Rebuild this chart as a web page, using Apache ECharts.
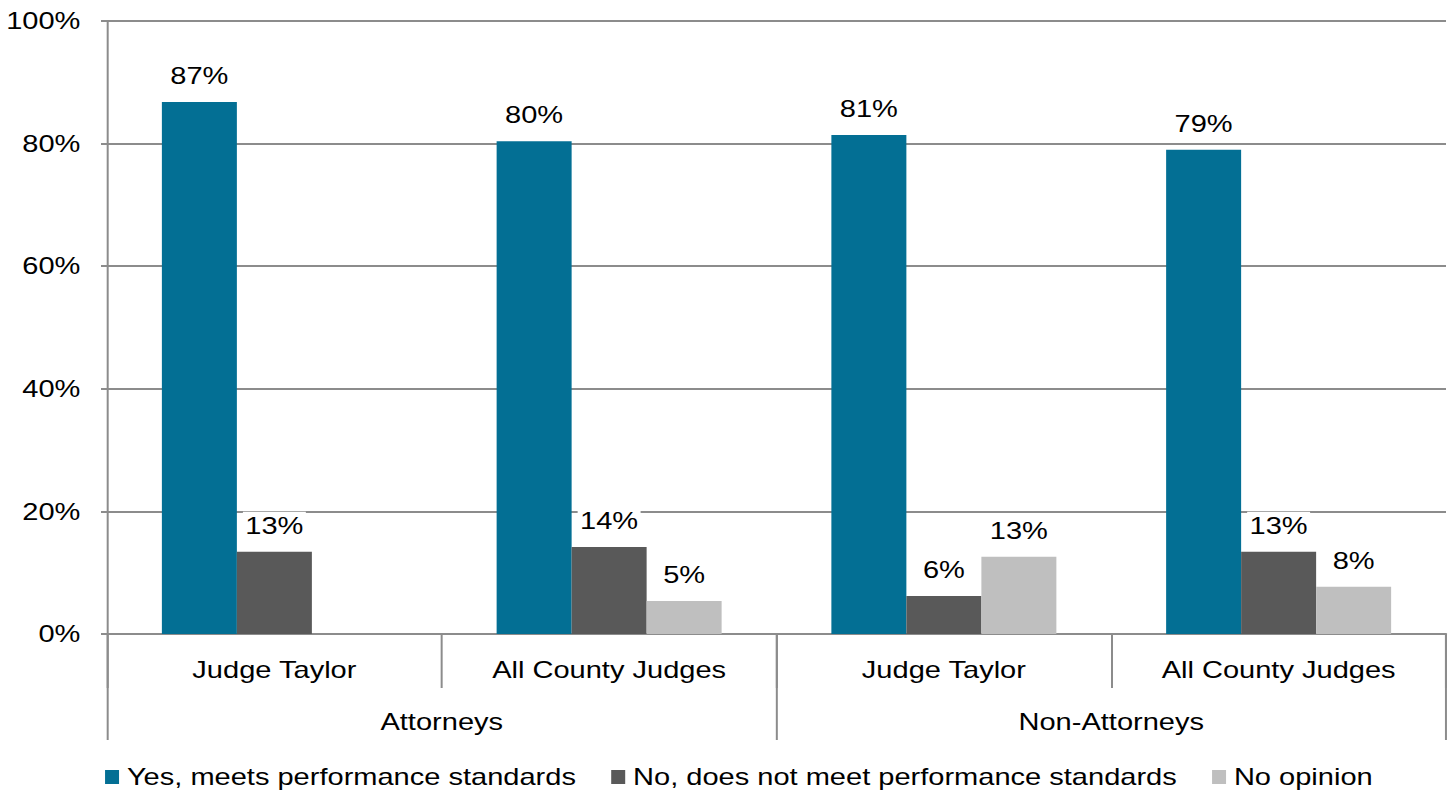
<!DOCTYPE html>
<html>
<head>
<meta charset="utf-8">
<script src="https://cdn.jsdelivr.net/npm/echarts@6/dist/echarts.min.js"></script>
<style>
html,body{margin:0;padding:0;background:#fff;overflow:hidden;width:1453px;height:794px;}
#c{height:794px;transform-origin:0 0;}
</style>
</head>
<body>
<div id="c"></div>
<script>
var categories = ['Judge Taylor', 'All County Judges', 'Judge Taylor', 'All County Judges'];
var groups = ['Attorneys', 'Non-Attorneys'];
var seriesNames = ['Yes, meets performance standards', 'No, does not meet performance standards', 'No opinion'];
var yesValues = [86.8, 80.4, 81.4, 79.0];
var noValues = [13.4, 14.2, 6.2, 13.4];
var noOpinionValues = [null, 5.4, 12.6, 7.7];
var yTicks = [0, 20, 40, 60, 80, 100];

// the reference text is Arial widened horizontally; reproduce by stretching the drawing
var S = 1.21;
var W = 1453 / S;
var el = document.getElementById('c');
el.style.width = W + 'px';
el.style.transform = 'scaleX(' + S + ')';

var colors = ['#036f94', '#595959', '#bfbfbf'];
var font = 'Liberation Sans, Arial, sans-serif';
var fs = 24;
var axisColor = '#8c8c8c';
var vw = 2 / S; // vertical stroke width after stretch ~2px

var chart = echarts.init(el, null, { renderer: 'svg', width: W, height: 794 });
function mkSeries(name, data, color) {
  return {
    name: name, type: 'bar', data: data, barWidth: 75 / S, barGap: '0%',
    itemStyle: { color: color },
    label: {
      show: true, position: 'top', distance: 12,
      fontFamily: font, fontSize: fs, color: '#000',
      backgroundColor: '#fff', padding: [2, 2, 2, 2],
      formatter: function (p) { return Math.round(p.value) + '%'; }
    }
  };
}
chart.setOption({
  animation: false,
  textStyle: { fontFamily: font },
  grid: { left: 107 / S, right: 7 / S, top: 21, bottom: 160, containLabel: false },
  legend: {
    data: seriesNames, left: 99 / S, top: 760, icon: 'rect',
    itemWidth: 14 / S, itemHeight: 14, itemGap: 35 / S,
    textStyle: { fontFamily: font, fontSize: fs, color: '#000', padding: [0, 0, 0, 1.5] }
  },
  xAxis: [
    {
      type: 'category', data: categories, position: 'bottom',
      axisLine: { show: true, lineStyle: { color: axisColor, width: 2 } },
      axisTick: { show: true, length: 54, lineStyle: { color: axisColor, width: vw } },
      axisLabel: { fontFamily: font, fontSize: fs, color: '#000', margin: 24 },
      splitLine: { show: false }
    },
    {
      type: 'category', data: groups, position: 'bottom',
      axisLine: { show: false },
      axisTick: { show: true, length: 106, lineStyle: { color: axisColor, width: vw } },
      axisLabel: { fontFamily: font, fontSize: fs, color: '#000', margin: 76 },
      splitLine: { show: false }
    }
  ],
  yAxis: {
    type: 'value', min: 0, max: 100, interval: 20,
    axisLine: { show: true, lineStyle: { color: axisColor, width: vw } },
    axisTick: { show: true, length: 6 / S, lineStyle: { color: axisColor, width: 2 } },
    axisLabel: { fontFamily: font, fontSize: fs, color: '#000', margin: 22,
      formatter: function (v) { return yTicks.indexOf(v) >= 0 ? v + '%' : ''; } },
    splitLine: { show: true, lineStyle: { color: axisColor, width: 2 } }
  },
  series: [
    mkSeries(seriesNames[0], yesValues, colors[0]),
    mkSeries(seriesNames[1], noValues, colors[1]),
    mkSeries(seriesNames[2], noOpinionValues, colors[2])
  ]
});
</script>
</body>
</html>
